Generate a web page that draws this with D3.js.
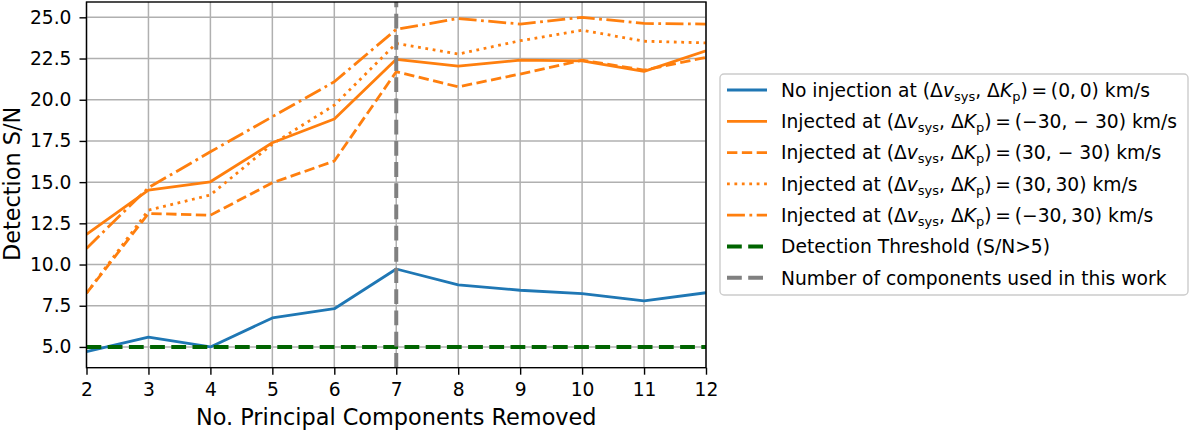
<!DOCTYPE html>
<html><head><meta charset="utf-8">
<script src="https://cdn.jsdelivr.net/npm/d3@7"></script>
<style>body{margin:0;background:#fff;} text{font-family:"DejaVu Sans",sans-serif;}</style>
</head><body><svg id="c" width="1190" height="430"></svg>
<script>
const components = [2,3,4,5,6,7,8,9,10,11,12];
const noInjection = [4.72,5.6,5.0,6.76,7.32,9.73,8.76,8.44,8.24,7.79,8.29];
const injM30M30 = [11.83,14.52,15.02,17.39,18.83,22.45,22.04,22.4,22.36,21.72,22.97];
const inj30M30 = [8.26,13.1,12.99,14.96,16.28,21.7,20.78,21.56,22.4,21.8,22.57];
const inj30_30 = [8.26,13.3,14.22,17.31,19.67,23.42,22.77,23.58,24.22,23.55,23.45];
const injM30_30 = [10.98,14.66,16.84,18.97,21.09,24.27,24.93,24.59,25.0,24.63,24.59];
const threshold = 5;
const usedComponents = 7;
const yTicks = [5.0,7.5,10.0,12.5,15.0,17.5,20.0,22.5,25.0];
const xTicks = [2,3,4,5,6,7,8,9,10,11,12];

const svg = d3.select("#c");
const L=86.5,R=706,T=2,B=367.7;
const x = d3.scaleLinear().domain([2,12]).range([L,R]);
const y = d3.scaleLinear().domain([3.74,25.93]).range([B,T]);
const lw = 2.8;
const fs = 18.7;

// grid
const g = svg.append("g");
g.selectAll("line.gx").data(xTicks).enter().append("line")
 .attr("x1",d=>x(d)).attr("x2",d=>x(d)).attr("y1",T).attr("y2",B)
 .attr("stroke","#b0b0b0").attr("stroke-width",1.5);
g.selectAll("line.gy").data(yTicks).enter().append("line")
 .attr("x1",L).attr("x2",R).attr("y1",d=>y(d)).attr("y2",d=>y(d))
 .attr("stroke","#b0b0b0").attr("stroke-width",1.5);

svg.append("clipPath").attr("id","cp").append("rect")
 .attr("x",L).attr("y",T).attr("width",R-L).attr("height",B-T);
const plot = svg.append("g").attr("clip-path","url(#cp)");

const line = d3.line().x((d,i)=>x(components[i])).y(d=>y(d));
const series = [
 {v:noInjection,c:"#1f77b4",dash:null},
 {v:injM30M30,c:"#ff7f0e",dash:null},
 {v:inj30M30,c:"#ff7f0e",dash:[3.7*lw,1.6*lw]},
 {v:inj30_30,c:"#ff7f0e",dash:[1*lw,1.65*lw]},
 {v:injM30_30,c:"#ff7f0e",dash:[6.4*lw,1.6*lw,1*lw,1.6*lw]}
];
series.forEach(s=>{
 plot.append("path").attr("d",line(s.v)).attr("fill","none")
  .attr("stroke",s.c).attr("stroke-width",lw).attr("stroke-linejoin","round")
  .attr("stroke-dasharray",s.dash?s.dash.join(","):null);
});
const thrLw=4;
plot.append("line").attr("x1",L).attr("x2",R).attr("y1",y(threshold)).attr("y2",y(threshold))
 .attr("stroke","#006400").attr("stroke-width",thrLw).attr("stroke-dasharray",[3.7*thrLw,1.6*thrLw].join(","));
plot.append("line").attr("x1",x(usedComponents)).attr("x2",x(usedComponents)).attr("y1",B).attr("y2",T)
 .attr("stroke","#808080").attr("stroke-width",thrLw).attr("stroke-dasharray",[3.7*thrLw,1.6*thrLw].join(","));

// axes
const xa = svg.append("g").attr("transform",`translate(0,${B})`)
 .call(d3.axisBottom(x).tickValues(xTicks).tickFormat(d3.format("d")).tickSize(7).tickPadding(8));
const ya = svg.append("g").attr("transform",`translate(${L},0)`)
 .call(d3.axisLeft(y).tickValues(yTicks).tickFormat(d3.format(".1f")).tickSize(7).tickPadding(8));
[xa,ya].forEach(a=>{
 a.select(".domain").remove();
 a.selectAll("line").attr("stroke","#000").attr("stroke-width",1.4);
 a.selectAll("text").attr("font-size",fs).attr("fill","#000").attr("font-family","DejaVu Sans");
});
svg.append("rect").attr("x",L).attr("y",T).attr("width",R-L).attr("height",B-T)
 .attr("fill","none").attr("stroke","#000").attr("stroke-width",1.4);

svg.append("text").attr("x",(L+R)/2).attr("y",425).attr("text-anchor","middle")
 .attr("font-size",22.4).text("No. Principal Components Removed");
svg.append("text").attr("transform",`translate(20,${(T+B)/2 - 1}) rotate(-90)`).attr("text-anchor","middle")
 .attr("font-size",22.4).text("Detection S/N");

// legend
const lg = svg.append("g");
lg.append("rect").attr("x",720).attr("y",74).attr("width",468).attr("height",221).attr("rx",4)
 .attr("fill","#fff").attr("fill-opacity",0.8).attr("stroke","#cccccc").attr("stroke-width",1.4);
const legendItems = [
 {c:"#1f77b4",dash:null,w:lw,t:[["No injection at ("],["Δ"],["v","i"],["sys","sub"],[", Δ"],["K","i"],["p","sub"],[")\u2009=\u2009(0,\u20090) km/s"]]},
 {c:"#ff7f0e",dash:null,w:lw,t:[["Injected at ("],["Δ"],["v","i"],["sys","sub"],[", Δ"],["K","i"],["p","sub"],[")\u2009=\u2009(−30, − 30) km/s"]]},
 {c:"#ff7f0e",dash:[3.7*lw,1.6*lw],w:lw,t:[["Injected at ("],["Δ"],["v","i"],["sys","sub"],[", Δ"],["K","i"],["p","sub"],[")\u2009=\u2009(30, − 30) km/s"]]},
 {c:"#ff7f0e",dash:[1*lw,1.65*lw],w:lw,t:[["Injected at ("],["Δ"],["v","i"],["sys","sub"],[", Δ"],["K","i"],["p","sub"],[")\u2009=\u2009(30,\u200930) km/s"]]},
 {c:"#ff7f0e",dash:[6.4*lw,1.6*lw,1*lw,1.6*lw],w:lw,t:[["Injected at ("],["Δ"],["v","i"],["sys","sub"],[", Δ"],["K","i"],["p","sub"],[")\u2009=\u2009(−30,\u200930) km/s"]]},
 {c:"#006400",dash:[3.7*thrLw,1.6*thrLw],w:thrLw,t:[["Detection Threshold (S/N>5)"]]},
 {c:"#808080",dash:[3.7*thrLw,1.6*thrLw],w:thrLw,t:[["Number of components used in this work"]]}
];
legendItems.forEach((it,i)=>{
 const yy = 90 + i*31.3;
 lg.append("line").attr("x1",727).attr("x2",767).attr("y1",yy).attr("y2",yy)
  .attr("stroke",it.c).attr("stroke-width",it.w).attr("stroke-dasharray",it.dash?it.dash.join(","):null);
 const t = lg.append("text").attr("x",781).attr("y",yy+6.8).attr("font-size",fs);
 it.t.forEach((p,j)=>{
  const ts = t.append("tspan").text(p[0]);
  if(p[1]==="i") ts.attr("font-style","italic");
  if(p[1]==="sub") ts.attr("font-size",13).attr("dy",4);
  const prev = it.t[j-1];
  if(prev && prev[1]==="sub" && p[1]!=="sub") ts.attr("dy",-4);
 });
});
</script></body></html>
